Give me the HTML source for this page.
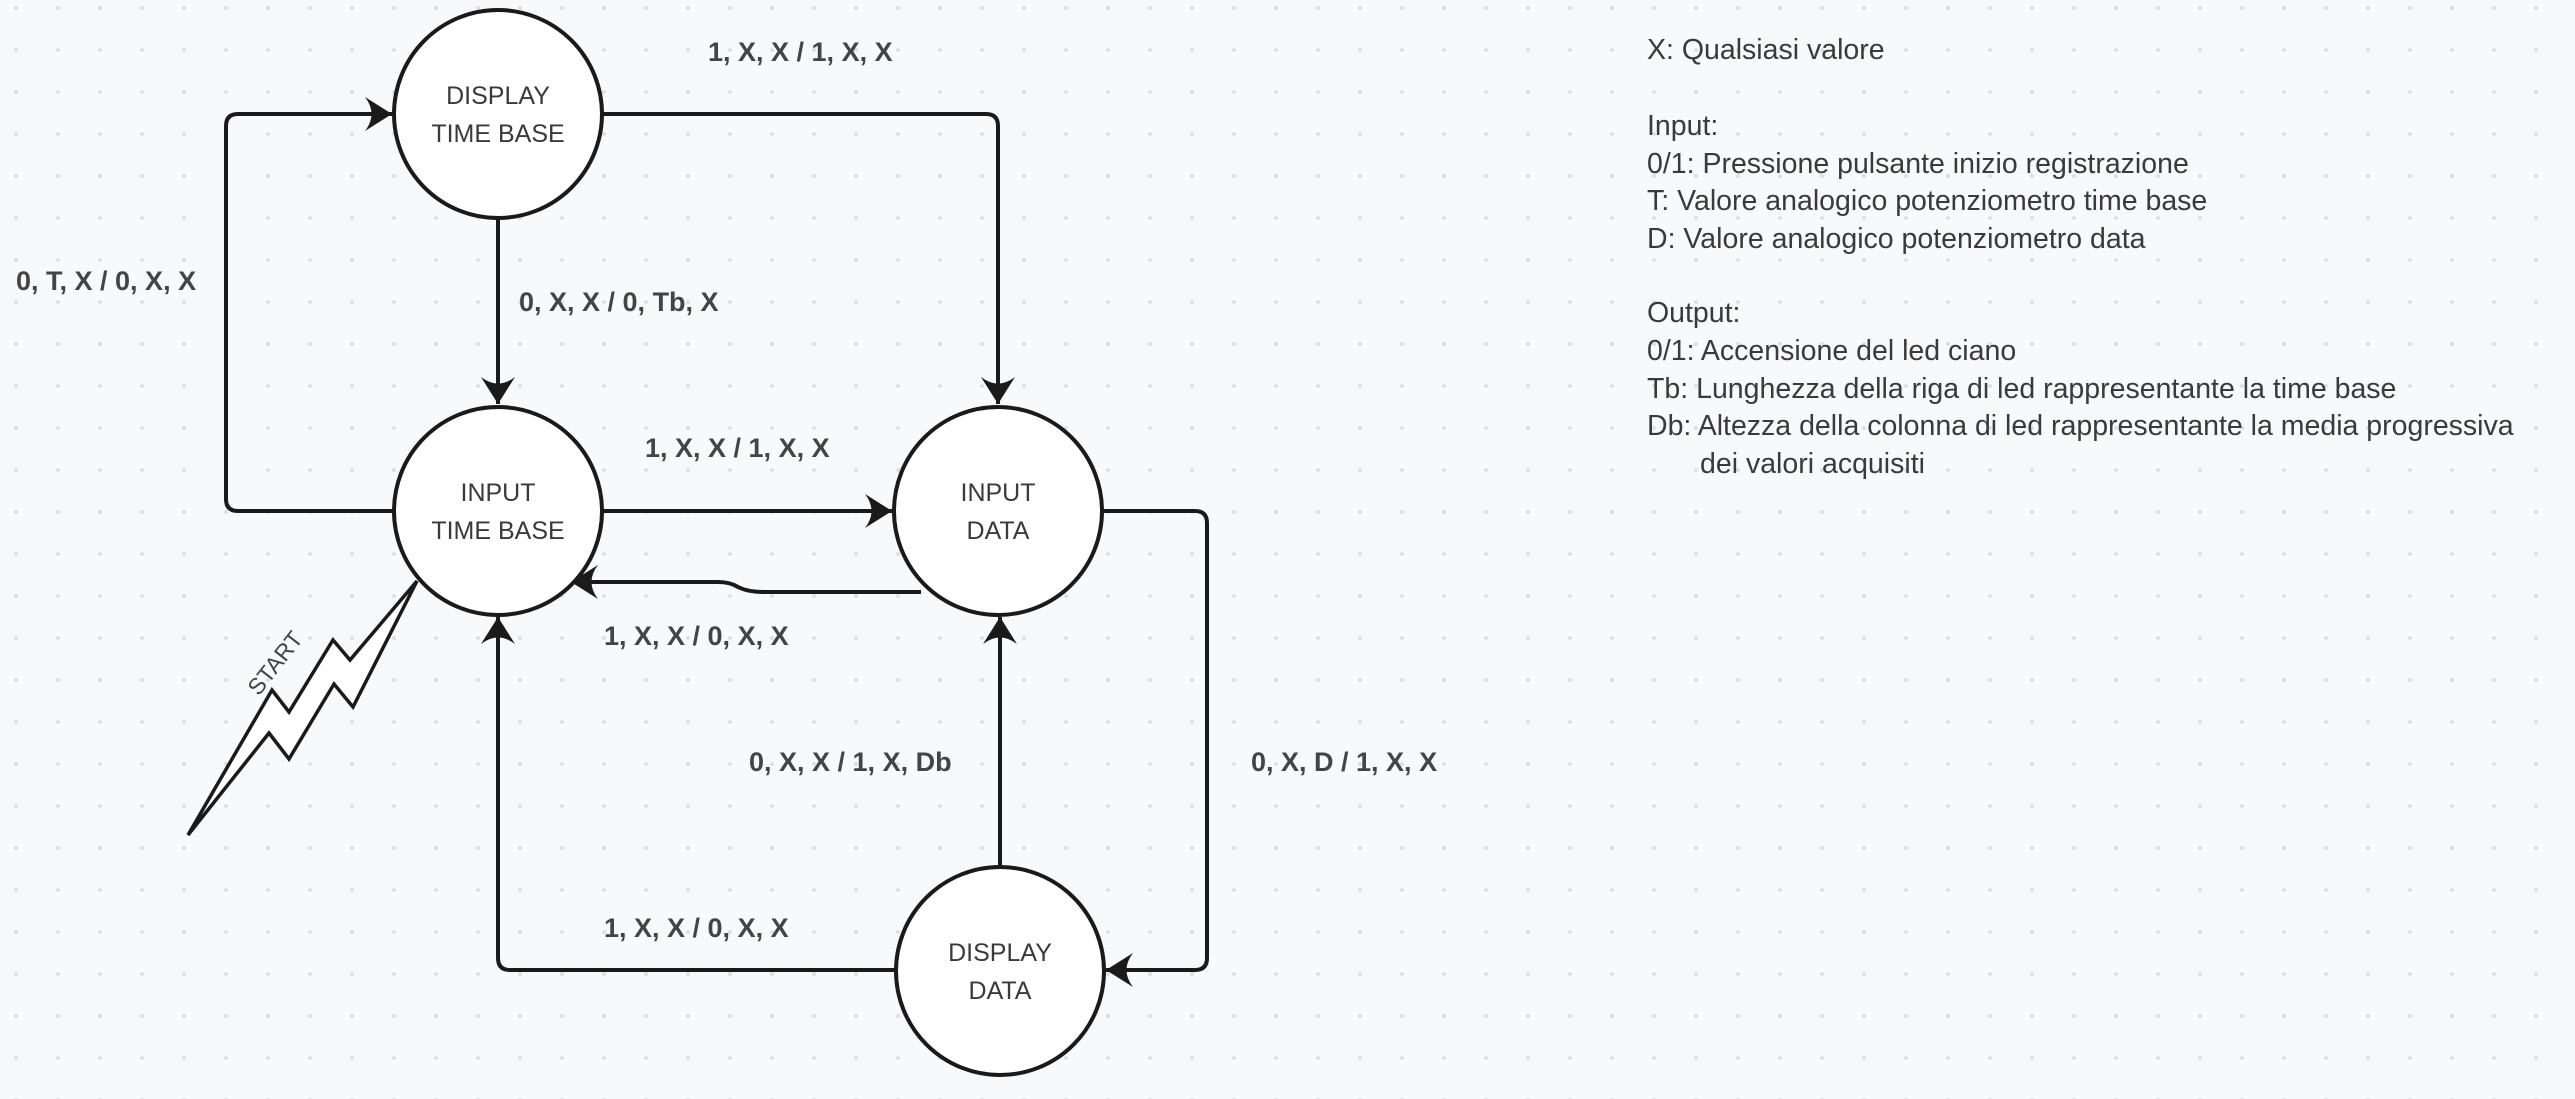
<!DOCTYPE html>
<html><head><meta charset="utf-8"><style>
html,body{margin:0;padding:0;background:#f8f9fb;}
svg{display:block;}
</style></head><body>
<svg width="2575" height="1099" viewBox="0 0 2575 1099" xmlns="http://www.w3.org/2000/svg">
<defs>
<pattern id="dots" x="16" y="8" width="42" height="42" patternUnits="userSpaceOnUse">
<circle cx="0" cy="0" r="2" fill="#dcdfe4"/><circle cx="42" cy="0" r="2" fill="#dcdfe4"/><circle cx="0" cy="42" r="2" fill="#dcdfe4"/><circle cx="42" cy="42" r="2" fill="#dcdfe4"/>
</pattern>
<marker id="ar" markerWidth="40" markerHeight="40" refX="30" refY="20" orient="auto" markerUnits="userSpaceOnUse">
<path d="M30,20 L3,3 Q16,20 3,37 Z" fill="#1a1a1a"/>
</marker>
</defs>
<rect width="2575" height="1099" fill="#f8f9fb"/>
<rect width="2575" height="1099" fill="url(#dots)"/>
<g fill="none" stroke="#1a1a1a" stroke-width="4" stroke-linejoin="round">
<path d="M393,511 L238,511 Q226,511 226,499 L226,126 Q226,114 238,114 L392,114" marker-end="url(#ar)"/>
<path d="M602,114 L986,114 Q998,114 998,126 L998,404" marker-end="url(#ar)"/>
<path d="M498,219 L498,404" marker-end="url(#ar)"/>
<path d="M602,511 L892,511" marker-end="url(#ar)"/>
<path d="M921,592 L764,592 Q748,592 738,587 Q730,582 718,582 L571,582" marker-end="url(#ar)"/>
<path d="M1000,867 L1000,617" marker-end="url(#ar)"/>
<path d="M895,970 L510,970 Q498,970 498,958 L498,617" marker-end="url(#ar)"/>
<path d="M1102,511 L1195,511 Q1207,511 1207,523 L1207,958 Q1207,970 1195,970 L1106,970" marker-end="url(#ar)"/>
</g>
<g fill="#fff" stroke="#1a1a1a" stroke-width="4">
<circle cx="498" cy="114" r="104"/>
<circle cx="498" cy="511" r="104"/>
<circle cx="998" cy="511" r="104"/>
<circle cx="1000" cy="971" r="104"/>
<polygon points="417,581 350,660 333,640 289,712 272,690 188,835 269,733 289,759 334,684 353,707" stroke-width="3.5" stroke-linejoin="miter"/>
</g>
<g font-family="Liberation Sans, sans-serif" font-size="25" fill="#3a3a3a" text-anchor="middle">
<text x="498" y="104">DISPLAY</text><text x="498" y="142">TIME BASE</text>
<text x="498" y="501">INPUT</text><text x="498" y="539">TIME BASE</text>
<text x="998" y="501">INPUT</text><text x="998" y="539">DATA</text>
<text x="1000" y="961">DISPLAY</text><text x="1000" y="999">DATA</text>
</g>
<text x="275" y="671" transform="rotate(-52 275 663)" font-family="Liberation Sans, sans-serif" font-size="23" fill="#444" text-anchor="middle">START</text>
<g font-family="Liberation Sans, sans-serif" font-size="27" font-weight="bold" fill="#444">
<text x="708" y="61">1, X, X / 1, X, X</text>
<text x="16" y="290">0, T, X / 0, X, X</text>
<text x="519" y="311">0, X, X / 0, Tb, X</text>
<text x="645" y="457">1, X, X / 1, X, X</text>
<text x="604" y="645">1, X, X / 0, X, X</text>
<text x="749" y="771">0, X, X / 1, X, Db</text>
<text x="1251" y="771">0, X, D / 1, X, X</text>
<text x="604" y="937">1, X, X / 0, X, X</text>
</g>
<g font-family="Liberation Sans, sans-serif" font-size="28.5" fill="#3a3a3a">
<text x="1647" y="59">X: Qualsiasi valore</text>
<text x="1647" y="135">Input:</text>
<text x="1647" y="173">0/1: Pressione pulsante inizio registrazione</text>
<text x="1647" y="210">T: Valore analogico potenziometro time base</text>
<text x="1647" y="248">D: Valore analogico potenziometro data</text>
<text x="1647" y="322">Output:</text>
<text x="1647" y="360">0/1: Accensione del led ciano</text>
<text x="1647" y="398">Tb: Lunghezza della riga di led rappresentante la time base</text>
<text x="1647" y="435">Db: Altezza della colonna di led rappresentante la media progressiva</text>
<text x="1700" y="473">dei valori acquisiti</text>
</g>
</svg>
</body></html>
